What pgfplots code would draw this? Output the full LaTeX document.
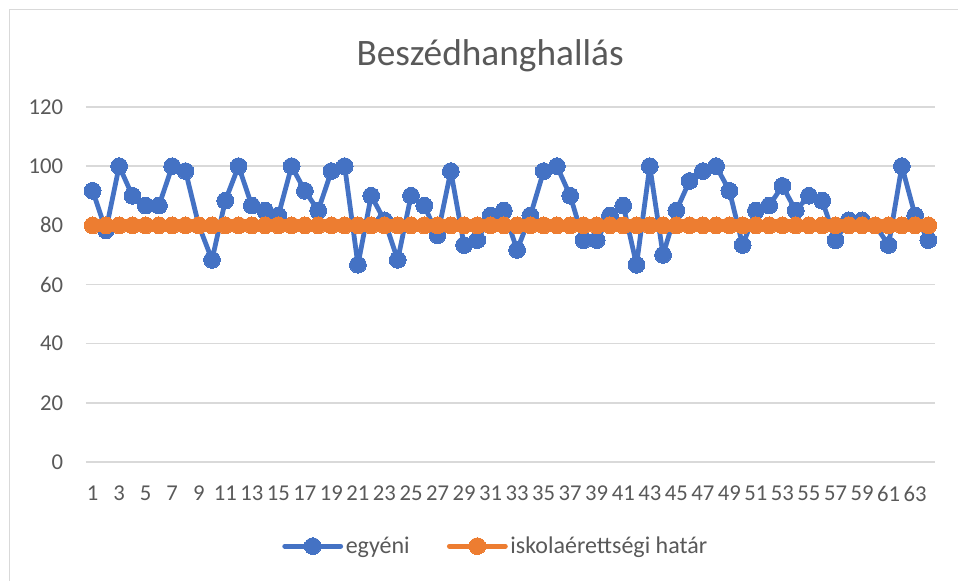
\documentclass[border=0pt]{standalone}
\usepackage{pgfplots}
\pgfplotsset{compat=1.18}
\usepackage{fontspec}
\setmainfont{Carlito}
\definecolor{cblue}{HTML}{4472C4}
\definecolor{corange}{HTML}{ED7D31}
\definecolor{cgrid}{HTML}{D9D9D9}
\definecolor{ctext}{HTML}{595959}
\begin{document}
\begin{tikzpicture}
\path[use as bounding box] (0,0) rectangle (718.5pt,435.75pt);
\draw[cgrid, line width=1.1pt] (7.1pt,0) -- (7.1pt,428.6pt) -- (718.5pt,428.6pt);
\begin{axis}[
  at={(64.5pt,89.25pt)}, anchor=south west,
  scale only axis, width=636.75pt, height=266.25pt,
  xmin=0.5, xmax=64.5, ymin=0, ymax=120,
  xtick={1,3,...,63}, ytick={0,20,...,120},
  ymajorgrids, grid style={cgrid, line width=1.1pt},
  axis line style={draw=none}, tick style={draw=none},
  major tick length=0pt,
  /pgf/number format/assume math mode=true,
  font=\fontsize{17pt}{20pt}\selectfont,
  tick label style={text=ctext, font=\fontsize{17pt}{20pt}\selectfont},
  yticklabel style={anchor=east, inner sep=0pt, xshift=-17pt},
  xticklabel style={anchor=north, inner sep=0pt, yshift=-18pt},
  title={Beszédhanghallás},
  title style={at={(0.476,1.095)}, anchor=base, text=ctext, inner sep=0pt,
    font=\fontsize{28pt}{33pt}\selectfont},
  legend columns=2,
  legend style={at={(0.483,-0.237)}, anchor=center, draw=none, fill=none,
    text=ctext, font=\fontsize{18pt}{21pt}\selectfont,
    /tikz/every even column/.append style={column sep=26pt}},
  legend image code/.code={\draw[#1, mark repeat=2, mark phase=2] plot coordinates {(0pt,0pt) (21pt,0pt) (42pt,0pt)};},
  legend cell align=left,
]
\addplot[cblue, line width=3.6pt, line join=round, line cap=round, mark=*, mark size=6.3pt, mark options={solid, fill=cblue, draw=cblue, line width=0pt}] coordinates {
(1,91.67) (2,78.33) (3,100) (4,90) (5,86.67) (6,86.67) (7,100) (8,98.33)
(9,80) (10,68.33) (11,88.33) (12,100) (13,86.67) (14,85) (15,83.33) (16,100)
(17,91.67) (18,85) (19,98.33) (20,100) (21,66.67) (22,90) (23,81.67) (24,68.33)
(25,90) (26,86.67) (27,76.67) (28,98.33) (29,73.33) (30,75) (31,83.33) (32,85)
(33,71.67) (34,83.33) (35,98.33) (36,100) (37,90) (38,75) (39,75) (40,83.33)
(41,86.67) (42,66.67) (43,100) (44,70) (45,85) (46,95) (47,98.33) (48,100)
(49,91.67) (50,73.33) (51,85) (52,86.67) (53,93.33) (54,85) (55,90) (56,88.33)
(57,75) (58,81.67) (59,81.67) (60,80) (61,73.33) (62,100) (63,83.33) (64,75)
};
\addlegendentry{egyéni}
\addplot[corange, line width=3.6pt, line join=round, line cap=round, mark=*, mark size=6.3pt, mark options={solid, fill=corange, draw=corange, line width=0pt}] coordinates {
(1,80) (2,80) (3,80) (4,80) (5,80) (6,80) (7,80) (8,80)
(9,80) (10,80) (11,80) (12,80) (13,80) (14,80) (15,80) (16,80)
(17,80) (18,80) (19,80) (20,80) (21,80) (22,80) (23,80) (24,80)
(25,80) (26,80) (27,80) (28,80) (29,80) (30,80) (31,80) (32,80)
(33,80) (34,80) (35,80) (36,80) (37,80) (38,80) (39,80) (40,80)
(41,80) (42,80) (43,80) (44,80) (45,80) (46,80) (47,80) (48,80)
(49,80) (50,80) (51,80) (52,80) (53,80) (54,80) (55,80) (56,80)
(57,80) (58,80) (59,80) (60,80) (61,80) (62,80) (63,80) (64,80)
};
\addlegendentry{iskolaérettségi határ}
\end{axis}
\end{tikzpicture}
\end{document}
